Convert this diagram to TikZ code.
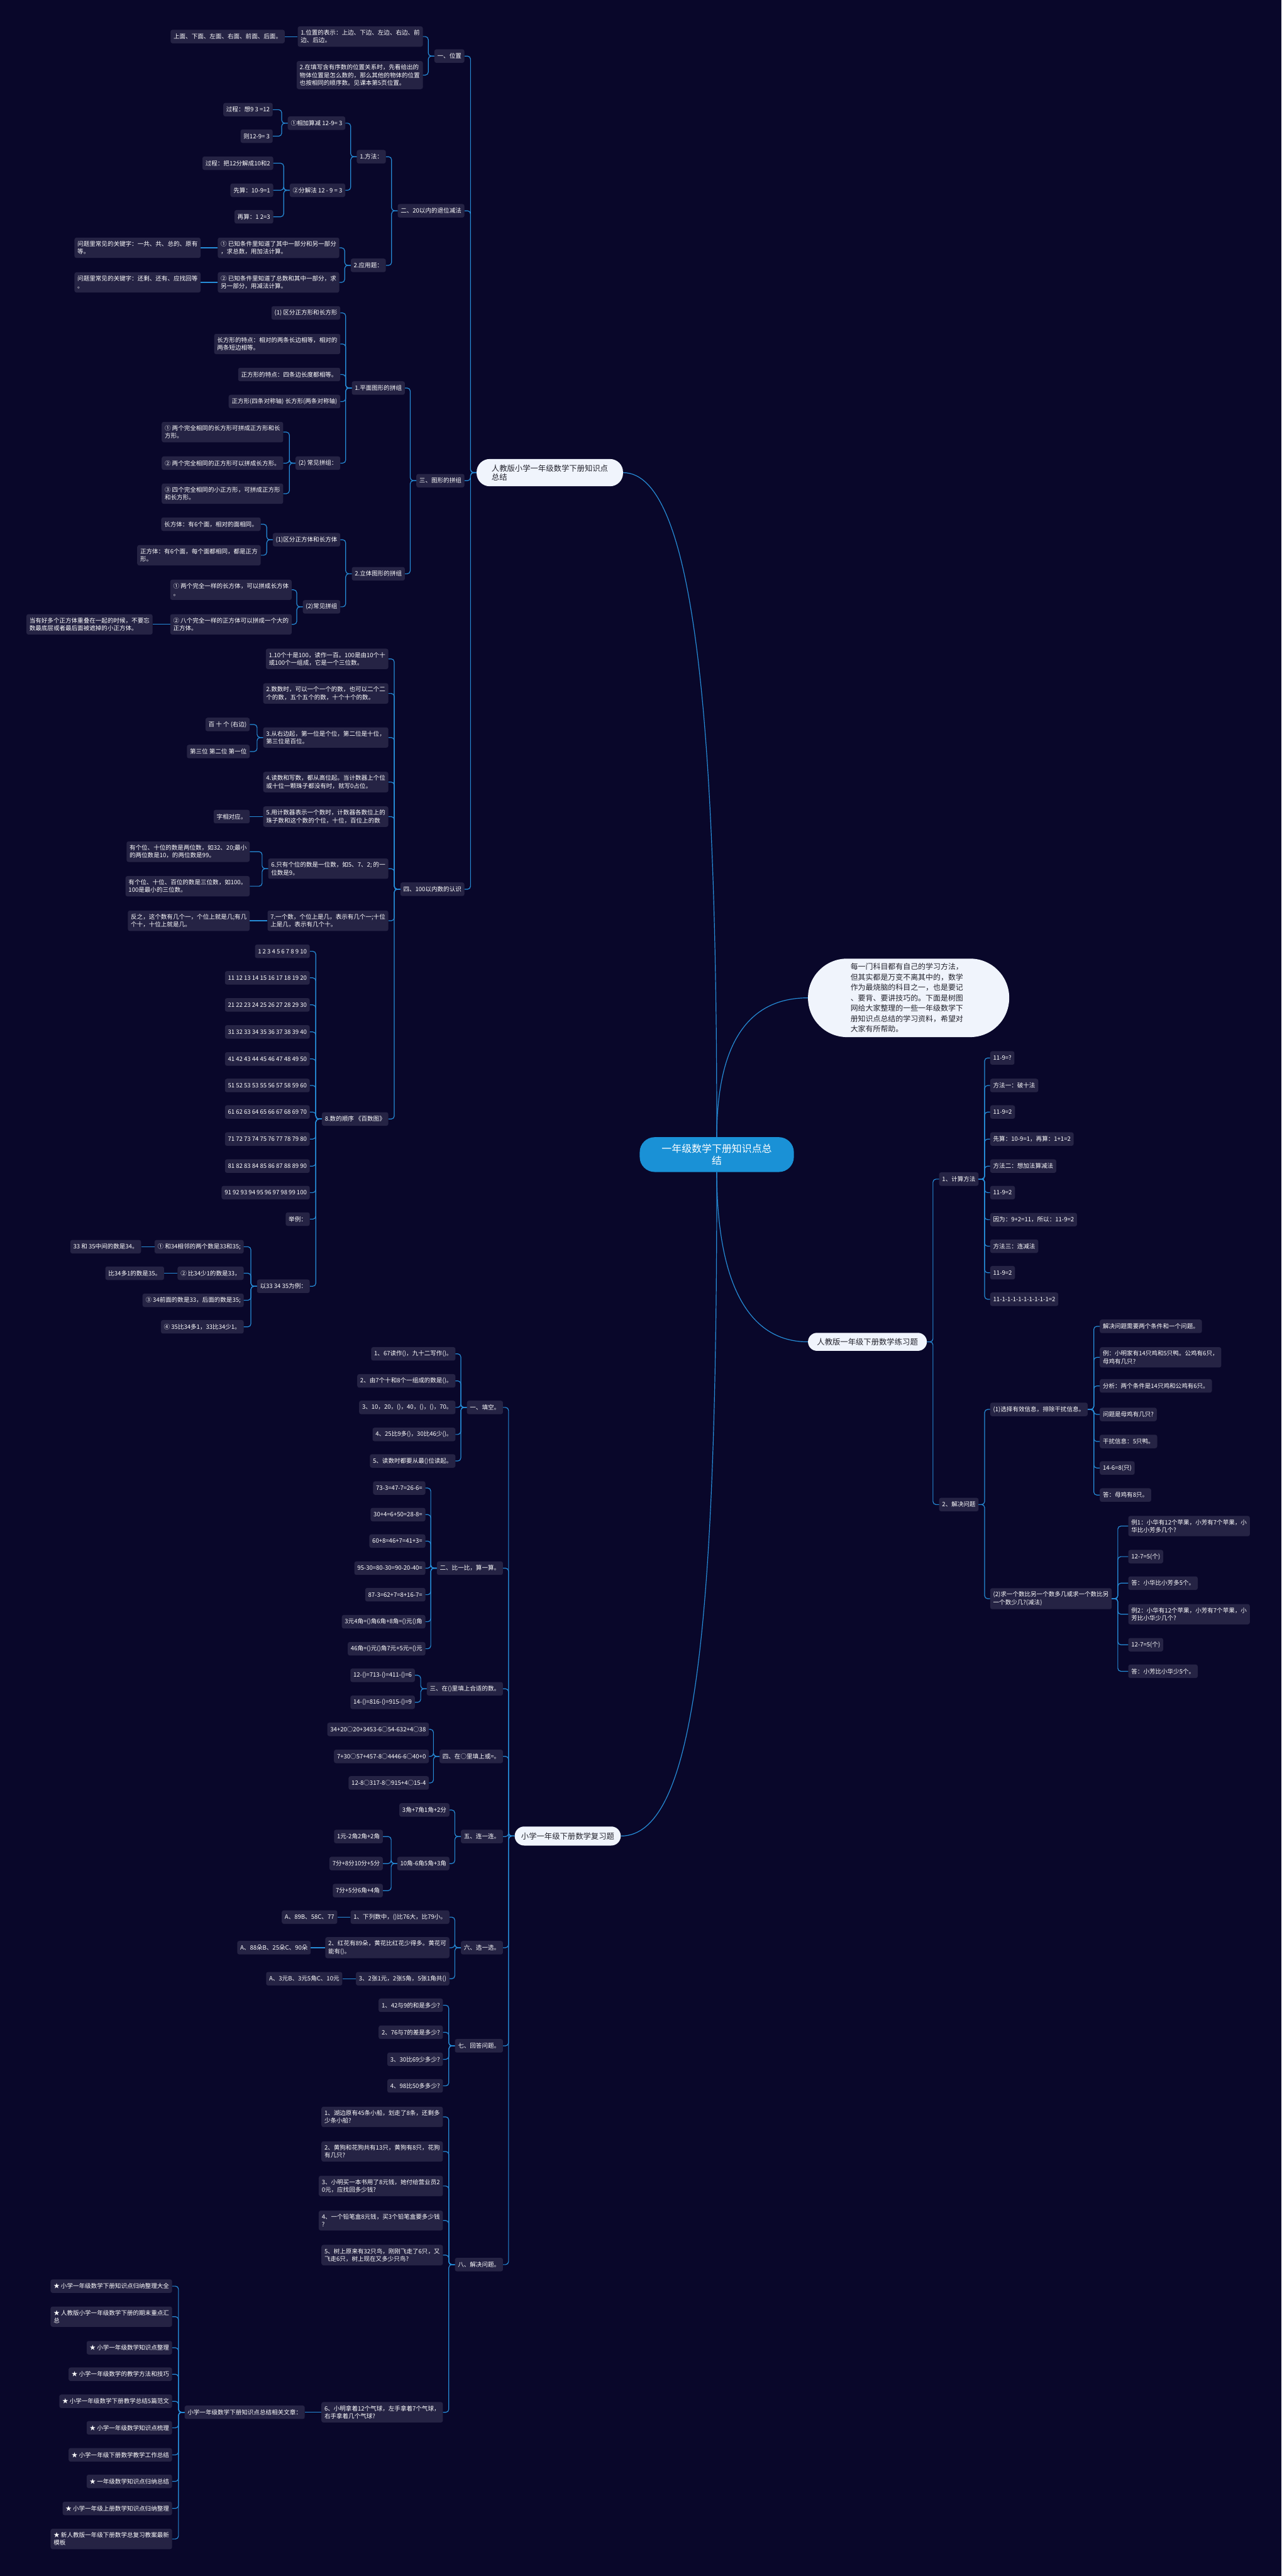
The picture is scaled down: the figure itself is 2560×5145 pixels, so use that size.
\documentclass[tikz,border=0pt]{standalone}
\usepackage{fontspec}
\setmainfont{Noto Sans CJK SC}
\definecolor{bgc}{RGB}{9,7,42}
\definecolor{boxc}{RGB}{37,35,68}
\definecolor{linec}{RGB}{38,140,215}
\definecolor{hubc}{RGB}{26,145,214}
\definecolor{mainc}{RGB}{240,244,252}
\definecolor{darkt}{RGB}{35,35,45}
\begin{document}
\begin{tikzpicture}[x=1pt,y=-1pt,
  leaf/.style={fill=boxc,text=white,rounded corners=4pt,inner xsep=6pt,inner ysep=7pt,minimum height=27pt,align=left,font=\fontsize{12}{15.5}\selectfont},
  lf/.style={leaf,anchor=east},
  rt/.style={leaf,anchor=west},
  topic/.style={fill=mainc,text=darkt,align=left,font=\fontsize{15.5}{18}\selectfont},
  link/.style={draw=linec,line width=1.5pt,rounded corners=6pt}]
\fill[bgc] (0,0) rectangle (2560,5145);

% centre and main branches
\node[fill=hubc,text=white,rounded corners=30pt,inner xsep=44pt,inner ysep=13pt,align=center,font=\fontsize{20}{25}\selectfont] at (1432,2306) (hub) {一年级数学下册知识点总\\结};
\node[topic,anchor=west,rounded corners=26pt,inner xsep=30pt,inner ysep=11pt] at (952,944) (zs) {人教版小学一年级数学下册知识点\\总结};
\node[topic,anchor=west,rounded corners=78pt,text width=232pt,inner xsep=85pt,inner ysep=9pt,font=\fontsize{15}{20.8}\selectfont] at (1614,1993) (intro) {每一门科目都有自己的学习方法，\\但其实都是万变不离其中的，数学\\作为最烧脑的科目之一，也是要记\\、要背、要讲技巧的。下面是树图\\网给大家整理的一些一年级数学下\\册知识点总结的学习资料，希望对\\大家有所帮助。};
\node[topic,anchor=west,rounded corners=18pt,inner xsep=18pt,inner ysep=9pt,minimum height=36pt] at (1614,2680) (lx) {人教版一年级下册数学练习题};
\node[topic,anchor=west,rounded corners=19pt,inner xsep=13pt,inner ysep=9pt,minimum height=38pt] at (1028,3667) (fx) {小学一年级下册数学复习题};

\draw[link] (hub.north) .. controls +(0,-770) and +(150,0) .. (zs.east);
\draw[link] (hub.north) .. controls +(0,-170) and +(-130,0) .. (intro.west);
\draw[link] (hub.south) .. controls +(0,200) and +(-130,0) .. (lx.west);
\draw[link] (hub.south) .. controls +(0,900) and +(150,0) .. (fx.east);

% 一、位置
\node[lf] at (928,112) (c1) {一、位置};
\node[lf] at (845,73) (c1a) {1.位置的表示：上边、下边、左边、右边、前\\边、后边。};
\node[lf] at (569,73) (c1a1) {上面、下面、左面、右面、前面、后面。};
\node[lf] at (845,150) (c1b) {2.在填写含有序数的位置关系时，先看给出的\\物体位置是怎么数的，那么其他的物体的位置\\也按相同的顺序数。见课本第5页位置。};

% 二、20以内的退位减法
\node[lf] at (928,421) (c2) {二、20以内的退位减法};
\node[lf] at (771,313) (c2a) {1.方法：};
\node[lf] at (690,246) (c2a1) {①相加算减 12-9= 3};
\node[lf] at (545,219) (c2a1x) {过程：想9 3 =12};
\node[lf] at (545,272) (c2a1y) {则12-9= 3};
\node[lf] at (690,380) (c2a2) {②分解法 12 - 9 = 3};
\node[lf] at (546,326) (c2a2x) {过程：把12分解成10和2};
\node[lf] at (546,380) (c2a2y) {先算：10-9=1};
\node[lf] at (546,433) (c2a2z) {再算：1 2=3};
\node[lf] at (771,530) (c2b) {2.应用题：};
\node[lf] at (678,495) (c2b1) {① 已知条件里知道了其中一部分和另一部分\\，求总数，用加法计算。};
\node[lf] at (401,495) (c2b1x) {问题里常见的关键字：一共、共、总的、原有\\等。};
\node[lf] at (678,564) (c2b2) {② 已知条件里知道了总数和其中一部分，求\\另一部分，用减法计算。};
\node[lf] at (401,564) (c2b2x) {问题里常见的关键字：还剩、还有、应找回等\\。};

% 三、图形的拼组
\node[lf] at (928,960) (c3) {三、图形的拼组};
\node[lf] at (809,775) (c3a) {1.平面图形的拼组};
\node[lf] at (680,625) (c3a1) {(1) 区分正方形和长方形};
\node[lf] at (680,687) (c3a2) {长方形的特点：相对的两条长边相等，相对的\\两条短边相等。};
\node[lf] at (680,748) (c3a3) {正方形的特点：四条边长度都相等。};
\node[lf] at (680,802) (c3a4) {正方形(四条对称轴) 长方形(两条对称轴)};
\node[lf] at (680,925) (c3a5) {(2) 常见拼组：};
\node[lf] at (566,863) (c3a5x) {① 两个完全相同的长方形可拼成正方形和长\\方形。};
\node[lf] at (566,925) (c3a5y) {② 两个完全相同的正方形可以拼成长方形。};
\node[lf] at (566,986) (c3a5z) {③ 四个完全相同的小正方形，可拼成正方形\\和长方形。};
\node[lf] at (809,1146) (c3b) {2.立体图形的拼组};
\node[lf] at (680,1078) (c3b1) {(1)区分正方体和长方体};
\node[lf] at (521,1047) (c3b1x) {长方体：有6个面，相对的面相同。};
\node[lf] at (521,1109) (c3b1y) {正方体：有6个面，每个面都相同，都是正方\\形。};
\node[lf] at (680,1212) (c3b2) {(2)常见拼组};
\node[lf] at (583,1178) (c3b2x) {① 两个完全一样的长方体，可以拼成长方体\\。};
\node[lf] at (583,1247) (c3b2y) {② 八个完全一样的正方体可以拼成一个大的\\正方体。};
\node[lf] at (305,1247) (c3b2z) {当有好多个正方体重叠在一起的时候，不要忘\\数最底层或者最后面被遮掉的小正方体。};

% 四、100以内数的认识
\node[lf] at (928,1776) (c4) {四、100以内数的认识};
\node[lf] at (776,1316) (c4a) {1.10个十是100，读作一百。100是由10个十\\或100个一组成，它是一个三位数。};
\node[lf] at (776,1385) (c4b) {2.数数时，可以一个一个的数，也可以二个二\\个的数，五个五个的数，十个十个的数。};
\node[lf] at (776,1473) (c4c) {3.从右边起，第一位是个位，第二位是十位，\\第三位是百位。};
\node[lf] at (499,1447) (c4c1) {百 十 个 (右边)};
\node[lf] at (499,1501) (c4c2) {第三位 第二位 第一位};
\node[lf] at (776,1562) (c4d) {4.读数和写数，都从高位起。当计数器上个位\\或十位一颗珠子都没有时，就写0占位。};
\node[lf] at (776,1631) (c4e) {5.用计数器表示一个数时，计数器各数位上的\\珠子数和这个数的个位，十位，百位上的数};
\node[lf] at (499,1631) (c4e1) {字相对应。};
\node[lf] at (776,1735) (c4f) {6.只有个位的数是一位数，如5、7、2; 的一\\位数是9。};
\node[lf] at (499,1701) (c4f1) {有个位、十位的数是两位数，如32、20;最小\\的两位数是10，的两位数是99。};
\node[lf] at (499,1770) (c4f2) {有个位、十位、百位的数是三位数，如100。\\100是最小的三位数。};
\node[lf] at (776,1839) (c4g) {7.一个数，个位上是几，表示有几个一;十位\\上是几，表示有几个十。};
\node[lf] at (499,1839) (c4g1) {反之，这个数有几个一，个位上就是几;有几\\个十，十位上就是几。};
\node[lf] at (776,2235) (c4h) {8.数的顺序 《百数图》};
\foreach \t/\y [count=\i] in {{1 2 3 4 5 6 7 8 9 10}/1900,{11 12 13 14 15 16 17 18 19 20}/1953,
  {21 22 23 24 25 26 27 28 29 30}/2007,{31 32 33 34 35 36 37 38 39 40}/2061,
  {41 42 43 44 45 46 47 48 49 50}/2115,{51 52 53 53 55 56 57 58 59 60}/2168,
  {61 62 63 64 65 66 67 68 69 70}/2221,{71 72 73 74 75 76 77 78 79 80}/2275,
  {81 82 83 84 85 86 87 88 89 90}/2329,{91 92 93 94 95 96 97 98 99 100}/2382,
  {举例：}/2435,{以33 34 35为例：}/2569}
  \node[lf] at (619,\y) (r\i) {\t};
\node[lf] at (487,2490) (l1) {① 和34相邻的两个数是33和35;};
\node[lf] at (282,2490) (l1x) {33 和 35中间的数是34。};
\node[lf] at (487,2543) (l2) {② 比34少1的数是33，};
\node[lf] at (328,2543) (l2x) {比34多1的数是35。};
\node[lf] at (487,2597) (l3) {③ 34前面的数是33，后面的数是35;};
\node[lf] at (487,2650) (l4) {④ 35比34多1，33比34少1。};

\foreach \c in {c1,c2,c3,c4} \draw[link] (zs.west) -- ++(-12,0) |- (\c.east);
\foreach \c in {c1a,c1b} \draw[link] (c1.west) -- ++(-12,0) |- (\c.east);
\draw[link] (c1a.west) -- (c1a1.east);
\foreach \c in {c2a,c2b} \draw[link] (c2.west) -- ++(-12,0) |- (\c.east);
\foreach \c in {c2a1,c2a2} \draw[link] (c2a.west) -- ++(-12,0) |- (\c.east);
\foreach \c in {c2a1x,c2a1y} \draw[link] (c2a1.west) -- ++(-12,0) |- (\c.east);
\foreach \c in {c2a2x,c2a2y,c2a2z} \draw[link] (c2a2.west) -- ++(-12,0) |- (\c.east);
\foreach \c in {c2b1,c2b2} \draw[link] (c2b.west) -- ++(-12,0) |- (\c.east);
\draw[link] (c2b1.west) -- (c2b1x.east);
\draw[link] (c2b2.west) -- (c2b2x.east);
\foreach \c in {c3a,c3b} \draw[link] (c3.west) -- ++(-12,0) |- (\c.east);
\foreach \c in {c3a1,c3a2,c3a3,c3a4,c3a5} \draw[link] (c3a.west) -- ++(-12,0) |- (\c.east);
\foreach \c in {c3a5x,c3a5y,c3a5z} \draw[link] (c3a5.west) -- ++(-12,0) |- (\c.east);
\foreach \c in {c3b1,c3b2} \draw[link] (c3b.west) -- ++(-12,0) |- (\c.east);
\foreach \c in {c3b1x,c3b1y} \draw[link] (c3b1.west) -- ++(-12,0) |- (\c.east);
\foreach \c in {c3b2x,c3b2y} \draw[link] (c3b2.west) -- ++(-12,0) |- (\c.east);
\draw[link] (c3b2y.west) -- (c3b2z.east);
\foreach \c in {c4a,c4b,c4c,c4d,c4e,c4f,c4g,c4h} \draw[link] (c4.west) -- ++(-12,0) |- (\c.east);
\foreach \c in {c4c1,c4c2} \draw[link] (c4c.west) -- ++(-12,0) |- (\c.east);
\draw[link] (c4e.west) -- (c4e1.east);
\foreach \c in {c4f1,c4f2} \draw[link] (c4f.west) -- ++(-12,0) |- (\c.east);
\draw[link] (c4g.west) -- (c4g1.east);
\foreach \i in {1,...,12} \draw[link] (c4h.west) -- ++(-12,0) |- (r\i.east);
\foreach \c in {l1,l2,l3,l4} \draw[link] (r12.west) -- ++(-12,0) |- (\c.east);
\draw[link] (l1.west) -- (l1x.east);
\draw[link] (l2.west) -- (l2x.east);

% 复习题
\node[lf] at (1005,2811) (q1) {一、填空。};
\foreach \t/\y [count=\i] in {{1、67读作()，九十二写作()。}/2704,{2、由7个十和8个一组成的数是()。}/2758,
  {3、10，20，()，40，()，()，70。}/2811,{4、25比9多()，30比46少()。}/2865,{5、读数时都要从最()位读起。}/2918}
  \node[lf] at (910,\y) (q1k\i) {\t};
\node[lf] at (1005,3132) (q2) {二、比一比，算一算。};
\foreach \t/\y [count=\i] in {{73-3=47-7=26-6=}/2972,{30+4=6+50=28-8=}/3025,{60+8=46+7=41+3=}/3078,
  {95-30=80-30=90-20-40=}/3132,{87-3=62+7=8+16-7=}/3185,{3元4角=()角6角+8角=()元()角}/3239,
  {46角=()元()角7元+5元=()元}/3293}
  \node[lf] at (850,\y) (q2k\i) {\t};
\node[lf] at (1005,3373) (q3) {三、在()里填上合适的数。};
\node[lf] at (829,3346) (q3k1) {12-()=713-()=411-()=6};
\node[lf] at (829,3400) (q3k2) {14-()=816-()=915-()=9};
\node[lf] at (1005,3508) (q4) {四、在○里填上或=。};
\node[lf] at (857,3454) (q4k1) {34+20○20+3453-6○54-632+4○38};
\node[lf] at (857,3508) (q4k2) {7+30○57+457-8○4446-6○40+0};
\node[lf] at (857,3561) (q4k3) {12-8○317-8○915+4○15-4};
\node[lf] at (1005,3668) (q5) {五、连一连。};
\node[lf] at (898,3615) (q5a) {3角+7角1角+2分};
\node[lf] at (898,3722) (q5b) {10角-6角5角+3角};
\node[lf] at (765,3668) (q5b1) {1元-2角2角+2角};
\node[lf] at (765,3722) (q5b2) {7分+8分10分+5分};
\node[lf] at (765,3776) (q5b3) {7分+5分6角+4角};
\node[lf] at (1005,3890) (q6) {六、选一选。};
\node[lf] at (898,3829) (q6a) {1、下列数中，()比76大，比79小。};
\node[lf] at (674,3829) (q6ax) {A、89B、58C、77};
\node[lf] at (898,3890) (q6b) {2、红花有89朵，黄花比红花少得多。黄花可\\能有()。};
\node[lf] at (621,3890) (q6bx) {A、88朵B、25朵C、90朵};
\node[lf] at (898,3952) (q6c) {3、2张1元，2张5角，5张1角共()};
\node[lf] at (684,3952) (q6cx) {A、3元B、3元5角C、10元};
\node[lf] at (1005,4086) (q7) {七、回答问题。};
\foreach \t/\y [count=\i] in {{1、42与9的和是多少?}/4005,{2、76与7的差是多少?}/4059,
  {3、30比69少多少?}/4113,{4、98比50多多少?}/4166}
  \node[lf] at (885,\y) (q7k\i) {\t};
\node[lf] at (1005,4523) (q8) {八、解决问题。};
\foreach \t/\y [count=\i] in {{1、湖边原有45条小船，划走了8条，还剩多\\少条小船?}/4228,
  {2、黄狗和花狗共有13只，黄狗有8只，花狗\\有几只?}/4297,
  {3、小明买一本书用了8元钱，她付给营业员2\\0元，应找回多少钱?}/4366,
  {4、一个铅笔盒8元钱，买3个铅笔盒要多少钱\\?}/4435,
  {5、树上原来有32只鸟，刚刚飞走了6只，又\\飞走6只，树上现在又多少只鸟?}/4504,
  {6、小明拿着12个气球，左手拿着7个气球，\\右手拿着几个气球?}/4818}
  \node[lf] at (885,\y) (q8k\i) {\t};
\node[lf] at (609,4818) (wz) {小学一年级数学下册知识点总结相关文章：};
\foreach \t/\y [count=\i] in {{★ 小学一年级数学下册知识点归纳整理大全}/4566,
  {★ 人教版小学一年级数学下册的期末重点汇\\总}/4627,{★ 小学一年级数学知识点整理}/4689,
  {★ 小学一年级数学的教学方法和技巧}/4742,{★ 小学一年级数学下册教学总结5篇范文}/4796,
  {★ 小学一年级数学知识点梳理}/4849,{★ 小学一年级下册数学教学工作总结}/4903,
  {★ 一年级数学知识点归纳总结}/4956,{★ 小学一年级上册数学知识点归纳整理}/5010,
  {★ 新人教版一年级下册数学总复习教案最新\\模板}/5071}
  \node[lf] at (344,\y) (s\i) {\t};

\foreach \c in {q1,q2,q3,q4,q5,q6,q7,q8} \draw[link] (fx.west) -- ++(-12,0) |- (\c.east);
\foreach \i in {1,...,5} \draw[link] (q1.west) -- ++(-12,0) |- (q1k\i.east);
\foreach \i in {1,...,7} \draw[link] (q2.west) -- ++(-12,0) |- (q2k\i.east);
\foreach \i in {1,2} \draw[link] (q3.west) -- ++(-12,0) |- (q3k\i.east);
\foreach \i in {1,2,3} \draw[link] (q4.west) -- ++(-12,0) |- (q4k\i.east);
\foreach \c in {q5a,q5b} \draw[link] (q5.west) -- ++(-12,0) |- (\c.east);
\foreach \c in {q5b1,q5b2,q5b3} \draw[link] (q5b.west) -- ++(-12,0) |- (\c.east);
\foreach \c in {q6a,q6b,q6c} \draw[link] (q6.west) -- ++(-12,0) |- (\c.east);
\draw[link] (q6a.west) -- (q6ax.east);
\draw[link] (q6b.west) -- (q6bx.east);
\draw[link] (q6c.west) -- (q6cx.east);
\foreach \i in {1,...,4} \draw[link] (q7.west) -- ++(-12,0) |- (q7k\i.east);
\foreach \i in {1,...,6} \draw[link] (q8.west) -- ++(-12,0) |- (q8k\i.east);
\draw[link] (q8k6.west) -- (wz.east);
\foreach \i in {1,...,10} \draw[link] (wz.west) -- ++(-12,0) |- (s\i.east);

% 练习题
\node[rt] at (1876,2355) (p1) {1、计算方法};
\foreach \t/\y [count=\i] in {{11-9=?}/2113,{方法一：破十法}/2168,{11-9=2}/2221,
  {先算：10-9=1，再算：1+1=2}/2275,{方法二：想加法算减法}/2329,{11-9=2}/2382,
  {因为：9+2=11，所以：11-9=2}/2436,{方法三：连减法}/2489,{11-9=2}/2542,
  {11-1-1-1-1-1-1-1-1-1=2}/2595}
  \node[rt] at (1978,\y) (k\i) {\t};
\node[rt] at (1876,3005) (p2) {2、解决问题};
\node[rt] at (1978,2815) (p2a) {(1)选择有效信息，排除干扰信息。};
\foreach \t/\y [count=\i] in {{解决问题需要两个条件和一个问题。}/2649,
  {例：小明家有14只鸡和5只鸭。公鸡有6只，\\母鸡有几只?}/2711,
  {分析：两个条件是14只鸡和公鸡有6只。}/2768,{问题是母鸡有几只?}/2825,
  {干扰信息：5只鸭。}/2879,{14-6=8(只)}/2932,{答：母鸡有8只。}/2986}
  \node[rt] at (2197,\y) (a\i) {\t};
\node[rt] at (1978,3193) (p2b) {(2)求一个数比另一个数多几或求一个数比另\\一个数少几?(减法)};
\foreach \t/\y [count=\i] in {{例1：小华有12个苹果，小芳有7个苹果，小\\华比小芳多几个?}/3048,
  {12-7=5(个)}/3109,{答：小华比小芳多5个。}/3162,
  {例2：小华有12个苹果，小芳有7个苹果，小\\芳比小华少几个?}/3224,
  {12-7=5(个)}/3285,{答：小芳比小华少5个。}/3338}
  \node[rt] at (2254,\y) (b\i) {\t};

\foreach \c in {p1,p2} \draw[link] (lx.east) -- ++(12,0) |- (\c.west);
\foreach \i in {1,...,10} \draw[link] (p1.east) -- ++(12,0) |- (k\i.west);
\foreach \c in {p2a,p2b} \draw[link] (p2.east) -- ++(12,0) |- (\c.west);
\foreach \i in {1,...,7} \draw[link] (p2a.east) -- ++(12,0) |- (a\i.west);
\foreach \i in {1,...,6} \draw[link] (p2b.east) -- ++(12,0) |- (b\i.west);
\end{tikzpicture}
\end{document}
